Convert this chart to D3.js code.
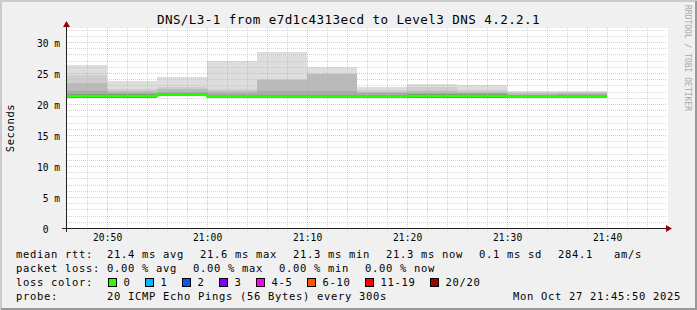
<!DOCTYPE html>
<html>
<head>
<meta charset="utf-8">
<title>DNS/L3-1 smokeping</title>
<script src="https://cdn.jsdelivr.net/npm/d3@7/dist/d3.min.js"></script>
<style>
    html, body { margin: 0; padding: 0; background: #f0f0f0; }
    svg { display: block; }
    text { font-family: "DejaVu Sans Mono", monospace; fill: #000; }
</style>
</head>
<body>
<div id="chart"></div>
<script>
// 5 minute steps (start of each step), last step ends at 21:40
const stepStarts = ['20:45', '20:50', '20:55', '21:00', '21:05', '21:10', '21:15', '21:20', '21:25', '21:30', '21:35'];
const stepEnd = '21:40';
const viewRange = ['20:45:50', '21:45:50'];

// median rtt per step (ms)
const medianRtt = [21.4, 21.4, 21.6, 21.3, 21.3, 21.3, 21.3, 21.4, 21.4, 21.3, 21.3];

// smoke bands per step (ms), outermost to innermost
const smokeMax  = [26.4, 23.8, 24.4, 27.0, 28.5, 26.1, 22.9, 23.3, 23.1, 22.1, 22.2];
const smokeHigh = [24.7, 22.5, 22.9, 22.5, 24.1, 25.0, 22.3, 22.8, 22.4, 21.9, 22.0];
const smokeMid  = [23.5, 22.2, 22.5, 22.2, 23.9, 24.9, 22.0, 22.1, 22.0, 21.8, 21.8];
const smokeLow  = [22.1, 21.9, 22.0, 21.9, 22.1, 22.1, 21.8, 21.9, 21.8, 21.6, 21.7];
const smokeCore = [21.7, 21.7, 21.9, 21.6, 21.6, 21.6, 21.6, 21.7, 21.7, 21.5, 21.5];
const smokeMin  = [21.1, 21.1, 21.3, 21.0, 21.0, 21.0, 21.0, 21.1, 21.1, 21.0, 21.0];

// axes
const xTickLabels = ['20:50', '21:00', '21:10', '21:20', '21:30', '21:40'];
const yTickValues = [0, 5, 10, 15, 20, 25, 30];
const yTickLabels = ['0  ', '5 m', '10 m', '15 m', '20 m', '25 m', '30 m'];

// legend
const rttLegend = ['median rtt:', '21.4 ms avg', '21.6 ms max', '21.3 ms min', '21.3 ms now', '0.1 ms sd', '284.1', 'am/s'];
const lossLegend = ['packet loss:', '0.00 % avg', '0.00 % max', '0.00 % min', '0.00 % now'];
const lossLabels = ['0', '1', '2', '3', '4-5', '6-10', '11-19', '20/20'];
const lossColors = ['#26ff00', '#00b8ff', '#0059ff', '#7e00ff', '#ff00ff', '#ff5500', '#ff0000', '#a10000'];
const probeLegend = ['probe:', '20 ICMP Echo Pings (56 Bytes) every 300s', 'Mon Oct 27 21:45:50 2025'];

const title = 'DNS/L3-1 from e7d1c4313ecd to Level3 DNS 4.2.2.1';
const credit = 'RRDTOOL / TOBI OETIKER';

const W = 697, H = 310;

function parseTime(s) {
    const p = s.split(':').map(Number);
    return new Date(2025, 9, 27, p[0], p[1], p[2] || 0);
}

// snap to pixel centre for crisp 1px lines
const px = v => Math.floor(v) + 0.5;

function drawChart() {
    const svg = d3.select('#chart').append('svg')
        .attr('width', W)
        .attr('height', H);

    // background + 3d frame
    svg.append('rect').attr('width', W).attr('height', H).attr('fill', '#f0f0f0');
    svg.append('path').attr('d', `M1,${H} V1 H${W}`).attr('fill', 'none').attr('stroke', '#cbcbcb').attr('stroke-width', 2);
    svg.append('path').attr('d', `M1,${H - 1} H${W - 1} V1`).attr('fill', 'none').attr('stroke', '#999').attr('stroke-width', 2);

    const x = d3.scaleTime().domain(viewRange.map(parseTime)).range([65.5, 665.5]);
    const y = d3.scaleLinear().domain([0, 32.26]).range([228.5, 28.5]);

    // canvas
    svg.append('rect').attr('x', 66).attr('y', 28).attr('width', 602).attr('height', 201).attr('fill', '#fff');

    svg.append('clipPath').attr('id', 'plot-clip')
        .append('rect').attr('x', 67).attr('y', 28).attr('width', 600).attr('height', 200);

    const steps = stepStarts.map((s, i) => ({
        i: i,
        t0: parseTime(s),
        t1: parseTime(i + 1 < stepStarts.length ? stepStarts[i + 1] : stepEnd)
    }));

    // smoke, lightest (outer) first
    const bands = [
        { vals: smokeMax, color: '#dddddd' },
        { vals: smokeHigh, color: '#cecece' },
        { vals: smokeMid, color: '#bababa' },
        { vals: smokeLow, color: '#a8a8a8' },
        { vals: smokeCore, color: '#8e8e8e' }
    ];
    const smoke = svg.append('g').attr('clip-path', 'url(#plot-clip)');
    bands.forEach(b => {
        smoke.append('g').selectAll('rect').data(steps).join('rect')
            .attr('x', d => x(d.t0))
            .attr('width', d => x(d.t1) - x(d.t0))
            .attr('y', d => y(b.vals[d.i]))
            .attr('height', d => y(smokeMin[d.i]) - y(b.vals[d.i]))
            .attr('fill', b.color)
            .attr('shape-rendering', 'crispEdges');
    });

    // grid
    const minorColor = 'rgba(185,185,185,0.6)';
    const majorColor = 'rgba(255,120,120,0.5)';
    const grid = svg.append('g').attr('shape-rendering', 'crispEdges').attr('stroke-dasharray', '1,1');
    const minorY = d3.range(1, 33).filter(v => v % 5 !== 0);
    const majorY = yTickValues.filter(v => v > 0);
    grid.selectAll('line.hmin').data(minorY).join('line').attr('class', 'hmin')
        .attr('x1', 67).attr('x2', 667)
        .attr('y1', d => px(y(d))).attr('y2', d => px(y(d)))
        .attr('stroke', minorColor);
    grid.selectAll('line.hmaj').data(majorY).join('line').attr('class', 'hmaj')
        .attr('x1', 67).attr('x2', 667)
        .attr('y1', d => px(y(d))).attr('y2', d => px(y(d)))
        .attr('stroke', majorColor);

    const allMinutes = d3.timeMinute.every(2).range(x.domain()[0], x.domain()[1]);
    const minorX = allMinutes.filter(d => d.getMinutes() % 10 !== 0 && x(d) > 68);
    const majorX = allMinutes.filter(d => d.getMinutes() % 10 === 0);
    grid.selectAll('line.vmin').data(minorX).join('line').attr('class', 'vmin')
        .attr('x1', d => px(x(d))).attr('x2', d => px(x(d)))
        .attr('y1', 28).attr('y2', 232)
        .attr('stroke', minorColor);
    grid.selectAll('line.vmaj').data(majorX).join('line').attr('class', 'vmaj')
        .attr('x1', d => px(x(d))).attr('x2', d => px(x(d)))
        .attr('y1', 28).attr('y2', 232)
        .attr('stroke', majorColor);

    // median rtt line
    const medianPts = steps.map(d => ({ t: d.t0, v: medianRtt[d.i] }));
    medianPts.push({ t: parseTime(stepEnd), v: medianRtt[medianRtt.length - 1] });
    const line = d3.line().x(d => x(d.t)).y(d => y(d.v)).curve(d3.curveStepAfter);
    svg.append('path')
        .attr('clip-path', 'url(#plot-clip)')
        .attr('d', line(medianPts))
        .attr('fill', 'none')
        .attr('stroke', lossColors[0])
        .attr('stroke-width', 2.4);

    // axis lines + arrows
    const axisG = svg.append('g').attr('shape-rendering', 'crispEdges');
    axisG.append('line').attr('x1', 62).attr('x2', 669).attr('y1', 228.5).attr('y2', 228.5).attr('stroke', '#222');
    axisG.append('line').attr('x1', 66.5).attr('x2', 66.5).attr('y1', 232).attr('y2', 25).attr('stroke', '#222');
    svg.append('path').attr('d', 'M666,225 L672,228.5 L666,232 Z').attr('fill', '#990000');
    svg.append('path').attr('d', 'M63,27 L66.5,21 L70,27 Z').attr('fill', '#990000');

    // x tick labels
    const xAxis = d3.axisBottom(x)
        .tickValues(xTickLabels.map(parseTime))
        .tickFormat((d, i) => xTickLabels[i])
        .tickSize(0);
    const gx = svg.append('g').call(xAxis);
    gx.select('.domain').remove();
    gx.selectAll('text')
        .attr('y', 241).attr('dy', null)
        .attr('font-size', '9.6px')
        .attr('letter-spacing', '0.1px');

    // y tick labels
    const yAxis = d3.axisLeft(y)
        .tickValues(yTickValues)
        .tickFormat((d, i) => yTickLabels[i])
        .tickSize(0);
    const gy = svg.append('g').call(yAxis);
    gy.select('.domain').remove();
    gy.selectAll('text')
        .attr('x', 60).attr('dy', null).attr('y', 3.6)
        .attr('text-anchor', 'end')
        .attr('font-size', '9.6px')
        .style('white-space', 'pre');

    // title and side texts
    svg.append('text')
        .attr('x', W / 2).attr('y', 24)
        .attr('text-anchor', 'middle')
        .attr('font-size', '12.6px')
        .attr('letter-spacing', '0.4px')
        .text(title);

    svg.append('text')
        .attr('transform', 'translate(14,128) rotate(-90)')
        .attr('text-anchor', 'middle')
        .attr('font-size', '10.5px')
        .attr('letter-spacing', '0.6px')
        .text('Seconds');

    svg.append('text')
        .attr('transform', 'translate(685,5) rotate(90)')
        .attr('font-size', '8px')
        .style('fill', '#a8a8a8')
        .text(credit);

    // legend
    const legend = svg.append('g').attr('font-size', '10.5px').attr('letter-spacing', '0.68px');
    const rttX = [16, 107, 200, 293, 386, 479, 558, 614];
    const lossX = [16, 107, 193, 279, 365];
    const probeX = [16, 107, 513];

    function legendRow(items, xs, baseline) {
        legend.append('g').selectAll('text').data(items).join('text')
            .attr('x', (d, i) => xs[i])
            .attr('y', baseline)
            .text(d => d);
    }
    legendRow(rttLegend, rttX, 257.5);
    legendRow(lossLegend, lossX, 271.5);
    legendRow(probeLegend, probeX, 299.5);

    legend.append('text').attr('x', 16).attr('y', 285.5).text('loss color:');
    const boxX = [108.5, 145.5, 182.5, 219.5, 256.5, 307.5, 365.5, 430.5];
    const lossItems = legend.append('g').selectAll('g').data(lossLabels).join('g')
        .attr('transform', (d, i) => `translate(${boxX[i]},0)`);
    lossItems.append('rect')
        .attr('x', 0).attr('y', 278.5)
        .attr('width', 8).attr('height', 8)
        .attr('fill', (d, i) => lossColors[i])
        .attr('stroke', '#000');
    lossItems.append('text')
        .attr('x', 15).attr('y', 285.5)
        .text(d => d);
}

if (document.readyState === 'loading') {
    document.addEventListener('DOMContentLoaded', drawChart);
} else {
    drawChart();
}
</script>
</body>
</html>
